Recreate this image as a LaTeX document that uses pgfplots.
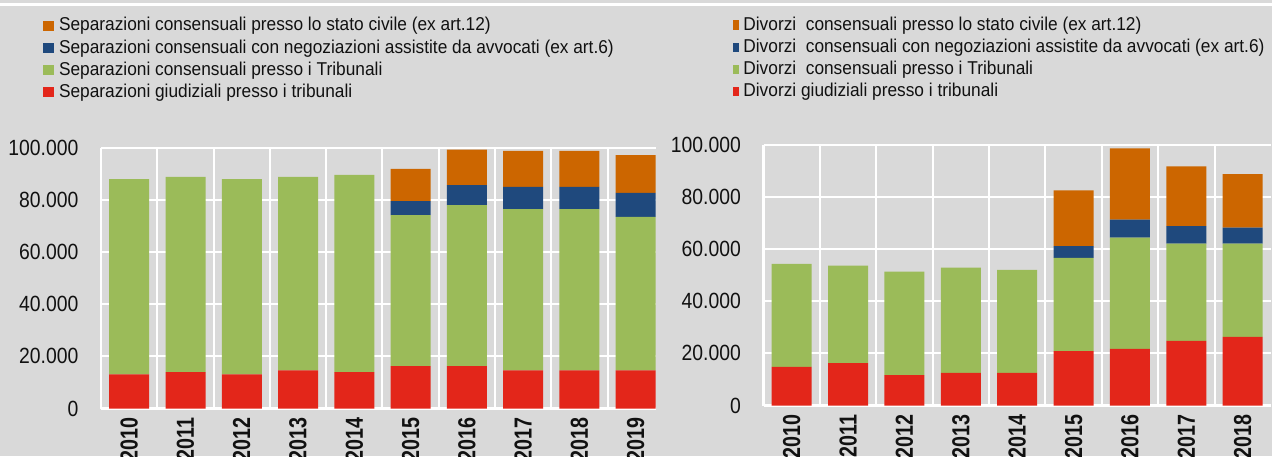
\documentclass[border=0pt]{standalone}
\usepackage{fontspec}
\setmainfont[FakeStretch=0.93]{Liberation Sans}
\newfontfamily\tickfont[FakeStretch=0.88]{Liberation Sans}
\newfontfamily\xtickfont[FakeStretch=0.8]{Liberation Sans}
\usepackage{pgfplots}
\usepackage{pgfplotstable}
\pgfplotsset{compat=1.18}
\definecolor{cOr}{HTML}{CC6600}
\definecolor{cBl}{HTML}{1F497D}
\definecolor{cGr}{HTML}{9BBB59}
\definecolor{cRe}{HTML}{E3261A}
\definecolor{cBg}{HTML}{D9D9D9}
\definecolor{cTx}{HTML}{111111}

\pgfplotstableread{
x red green blue orange
0 13100 74800 0 0
1 13900 74800 0 0
2 13100 74800 0 0
3 14600 74100 0 0
4 13900 75600 0 0
5 16200 57900 5400 12300
6 16200 61700 7700 13600
7 14600 61800 8500 13800
8 14600 61800 8500 13800
9 14600 58800 9200 14500
}\sepdata

\pgfplotstableread{
x red green blue orange
0 14800 39600 0 0
1 16300 37400 0 0
2 11700 39700 0 0
3 12500 40400 0 0
4 12500 39600 0 0
5 20900 35800 4500 21400
6 21700 42700 7000 27300
7 24800 37300 6800 22900
8 26300 35800 6200 20500
}\divdata

\pgfplotsset{
  mybars/.style={
    scale only axis,
    ybar stacked,
    bar width=20pt,
    ymin=0, ymax=100000,
    ytick={0,20000,40000,60000,80000,100000},
    xminorgrids=true, ymajorgrids=true, xmajorgrids=false,
    grid style={white, line width=1pt},
    minor grid style={white, line width=1pt},
    axis x line*=bottom, axis y line*=left,
    axis line style={white, line width=1.2pt, -},
    major tick length=0pt, minor tick length=0pt,
    tick style={draw=none},
    scaled y ticks=false,
    /pgf/number format/fixed,
    /pgf/number format/1000 sep={.},
    /pgf/number format/assume math mode=true,
    yticklabel style={font=\tickfont\fontsize{11}{11}\selectfont, text=cTx, xshift=-7.8pt},
    xticklabel style={font=\xtickfont\bfseries\fontsize{12.3}{12.3}\selectfont, rotate=90, anchor=east, text=cTx},
    xticklabel shift=1.2pt,
    legend cell align=left,
    reverse legend,
    legend style={draw=none, fill=none, font=\fontsize{9.3}{9.3}\selectfont, text=cTx,
      inner sep=0pt, outer sep=0pt, row sep=2.1pt, anchor=north west,
      nodes={inner sep=0pt, text height=6.8pt, text depth=2.2pt},
      /tikz/every odd column/.append style={column sep=2.5pt}},
  },
  sqL/.style={legend image code/.code={\fill[##1] (0pt,-2.2pt) rectangle (5.5pt,2.8pt);}},
  sqR/.style={legend image code/.code={\fill[##1] (0pt,-2.0pt) rectangle (3.2pt,2.6pt);}},
}

\begin{document}
\begin{tikzpicture}
\fill[cBg] (0,0) rectangle (636pt,228pt);
\draw[white, line width=1.35pt] (0,225.65pt) -- (636pt,225.65pt);

\begin{axis}[mybars,
  at={(50.55pt,23.75pt)}, anchor=south west,
  width=277.4pt, height=130.5pt,
  xmin=-0.5, xmax=9.36,
  xtick={0,...,9},
  xticklabels={2010,2011,2012,2013,2014,2015,2016,2017,2018,2019},
  minor xtick={0.5,1.5,...,8.5},
  legend style={at={(-0.1047,1.4985)}},
]
\addplot[fill=cRe, draw=none, sqL] table[x=x, y=red] {\sepdata};
\addplot[fill=cGr, draw=none, sqL] table[x=x, y=green] {\sepdata};
\addplot[fill=cBl, draw=none, sqL] table[x=x, y=blue] {\sepdata};
\addplot[fill=cOr, draw=none, sqL] table[x=x, y=orange] {\sepdata};
\legend{Separazioni giudiziali presso i tribunali,
        Separazioni consensuali presso i Tribunali,
        Separazioni consensuali con negoziazioni assistite da avvocati (ex art.6),
        Separazioni consensuali presso lo stato civile (ex art.12)}
\end{axis}

\begin{axis}[mybars,
  at={(381.75pt,25.25pt)}, anchor=south west,
  width=253.7pt, height=130.25pt,
  xmin=-0.5, xmax=8.5,
  xtick={0,...,8},
  xticklabels={2010,2011,2012,2013,2014,2015,2016,2017,2018},
  minor xtick={0.5,1.5,...,7.5},
  legend style={at={(-0.0601,1.493)}, /tikz/every odd column/.append style={column sep=2pt}},
]
\addplot[fill=cRe, draw=none, sqR] table[x=x, y=red] {\divdata};
\addplot[fill=cGr, draw=none, sqR] table[x=x, y=green] {\divdata};
\addplot[fill=cBl, draw=none, sqR] table[x=x, y=blue] {\divdata};
\addplot[fill=cOr, draw=none, sqR] table[x=x, y=orange] {\divdata};
\legend{Divorzi giudiziali presso i tribunali,
        Divorzi\ \ consensuali presso i Tribunali,
        Divorzi\ \ consensuali con negoziazioni assistite da avvocati (ex art.6),
        Divorzi\ \ consensuali presso lo stato civile (ex art.12)}
\end{axis}

\pgfresetboundingbox
\path[use as bounding box] (0,0) rectangle (636pt,228pt);
\end{tikzpicture}
\end{document}
